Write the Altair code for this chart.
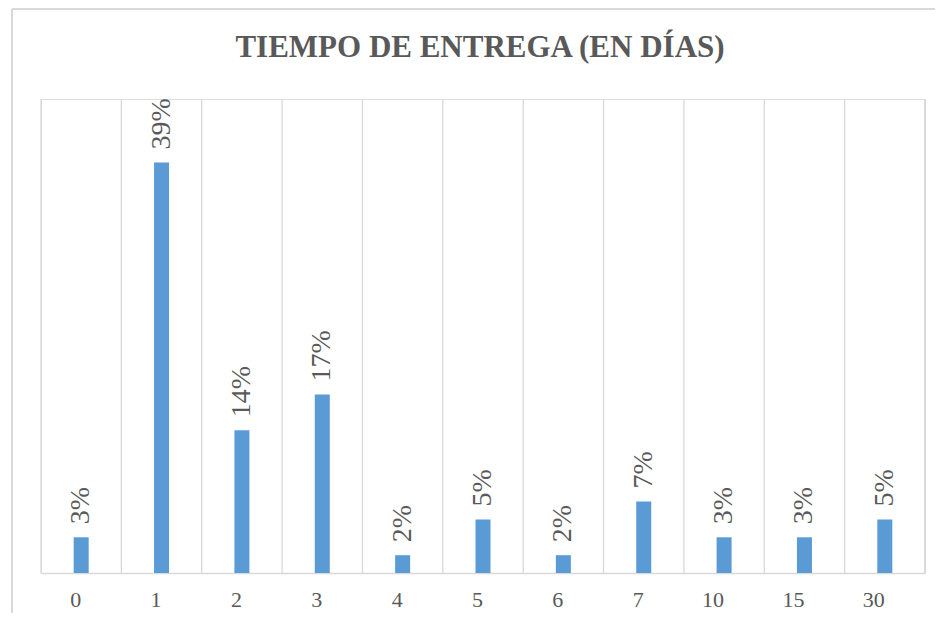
import altair as alt
import pandas as pd

dias = ["0", "1", "2", "3", "4", "5", "6", "7", "10", "15", "30"]
porcentaje = [3.39, 38.98, 13.56, 16.95, 1.69, 5.08, 1.69, 6.78, 3.39, 3.39, 5.08]
titulo = "TIEMPO DE ENTREGA (EN DÍAS)"

df = pd.DataFrame({"dias": dias, "pct": porcentaje})

W, H = 884, 474
SERIF = "Liberation Serif"
GRAY = "#595959"
LINE = "#d9d9d9"

xenc = alt.X("dias:N", sort=dias, title=None,
             scale=alt.Scale(paddingInner=0, paddingOuter=0),
             axis=alt.Axis(labelAngle=0, labelFont=SERIF, labelFontSize=22,
                           labelColor=GRAY, labelPadding=26, ticks=False,
                           domainColor=LINE, domainWidth=1.5, grid=False))
yenc = alt.Y("pct:Q", scale=alt.Scale(domain=[0, 45]), axis=None)

base = alt.Chart(df)

grid = base.mark_rule(color=LINE, strokeWidth=1.3).encode(
    x=alt.X("dias:N", sort=dias, bandPosition=0),
    y=alt.value(0), y2=alt.value(H))
grid_end = base.mark_rule(color=LINE, strokeWidth=1.3).encode(
    x=alt.value(W), y=alt.value(0), y2=alt.value(H))

bars = base.mark_bar(color="#5B9BD5", size=15).encode(x=xenc, y=yenc)

labels = base.mark_text(angle=270, align="left", baseline="middle", dx=13,
                        font=SERIF, fontSize=28, color=GRAY).encode(
    x=alt.X("dias:N", sort=dias), y=yenc,
    text=alt.Text("lbl:N")).transform_calculate(
    lbl="format(round(datum.pct), 'd') + '%'")

border_top = base.mark_rule(color=LINE, strokeWidth=1.5).encode(
    x=alt.value(-29), x2=alt.value(W + 40), y=alt.value(-90))
border_left = base.mark_rule(color=LINE, strokeWidth=2).encode(
    x=alt.value(-29), y=alt.value(-90), y2=alt.value(H + 60))

title = alt.Chart(pd.DataFrame({"t": [titulo]})).mark_text(
    align="center", baseline="alphabetic", font=SERIF, fontSize=31,
    fontWeight="bold", color=GRAY).encode(
    x=alt.value(W / 2 - 3), y=alt.value(-42), text="t:N")

chart = alt.layer(border_top, border_left, grid, grid_end, bars, labels, title).properties(
    width=W, height=H,
    autosize=alt.AutoSizeParams(type="none"),
    padding={"left": 33, "top": 91, "right": 10, "bottom": 40},
).configure_view(stroke=None).configure(background="white")

chart.save("out.html", embed_options={"renderer": "svg", "actions": False})
